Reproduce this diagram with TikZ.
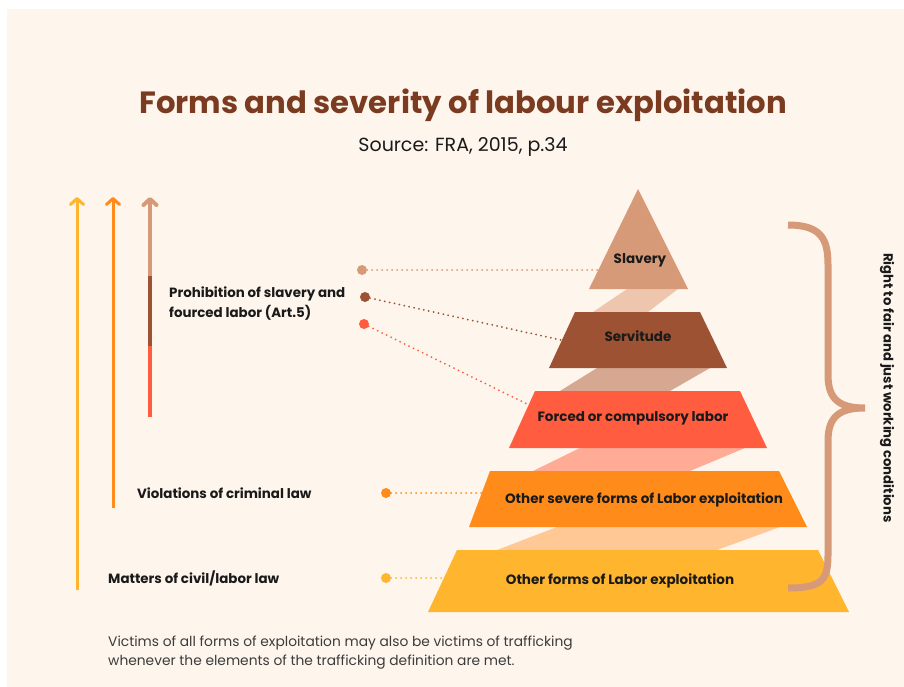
\documentclass[tikz,border=0pt]{standalone}
\usepackage{fontspec}
\setmainfont{Poppins}
\usetikzlibrary{arrows.meta}
\definecolor{paper}{HTML}{FEF5EC}
\definecolor{ink}{HTML}{1A1A1A}
\definecolor{headbrown}{HTML}{7A3B20}
\definecolor{tan}{HTML}{D69A78}
\definecolor{rust}{HTML}{9C5233}
\definecolor{coral}{HTML}{FF5C40}
\definecolor{amber}{HTML}{FF8C1A}
\definecolor{gold}{HTML}{FFB62E}
\definecolor{bandtan}{HTML}{EEC6AE}
\definecolor{bandrust}{HTML}{D6A892}
\definecolor{bandcoral}{HTML}{FFAB96}
\definecolor{bandamber}{HTML}{FFC894}

\begin{document}
\begin{tikzpicture}[x=1pt, y=-1pt,
  tier/.style={font=\fontsize{13.5}{16}\selectfont\bfseries, text=ink},
  lawlabel/.style={anchor=west, inner sep=0pt, font=\fontsize{13.4}{20}\selectfont\bfseries, text=ink, align=left},
  bullet/.style={circle, inner sep=0pt, minimum size=10pt, fill=#1},
  leader/.style={draw=#1, line width=2pt, line cap=round, dash pattern=on 0pt off 5pt},
  scalearrow/.style={draw=#1, line width=3pt, -{Straight Barb[length=6pt, width=13pt, round]}}
]
  \fill[white] (0,0) rectangle (904,687);
  \fill[paper] (7,9) rectangle (904,687);

  \node[font=\fontsize{30.7}{36}\selectfont\bfseries, text=headbrown] (title) at (463,105) {Forms and severity of labour exploitation};
  \node[font=\fontsize{19}{22}\selectfont, text=ink] (source) at (463,147) {Source: FRA, 2015, p.34};

  % bands joining the tiers
  \fill[bandtan] (627,289) -- (678,289) -- (648,312) -- (593,312) -- cycle;
  \fill[bandrust] (597,368) -- (710,368) -- (670,391) -- (560,391) -- cycle;
  \fill[bandcoral] (580,448) -- (745,448) -- (690,471) -- (533,471) -- cycle;
  \fill[bandamber] (557,527) -- (780,527) -- (717,550) -- (497,550) -- cycle;

  % tiers
  \fill[tan] (638,189) -- (688,289) -- (589,289) -- cycle;
  \fill[rust] (575,312) -- (700,312) -- (727,368) -- (549,368) -- cycle;
  \fill[coral] (535,391) -- (740,391) -- (767,448) -- (509,448) -- cycle;
  \fill[amber] (490,471) -- (779,471) -- (807,527) -- (469,527) -- cycle;
  \fill[gold] (457,550) -- (818,550) -- (849,612) -- (428,612) -- cycle;

  \node[tier] (slavery) at (640,260) {Slavery};
  \node[tier] (servitude) at (638,336) {Servitude};
  \node[tier] (forced) at (633,418) {Forced or compulsory labor};
  \node[tier] (severe) at (644,500) {Other severe forms of Labor exploitation};
  \node[tier] (other) at (620,581) {Other forms of Labor exploitation};

  % leaders from the law labels to the tiers
  \coordinate (slaveryedge) at (598,270);
  \coordinate (servitudeedge) at (561,340);
  \coordinate (forcededge) at (529,405);
  \coordinate (severeedge) at (483,493);
  \coordinate (otheredge) at (444,578);

  \node[bullet=tan] (dslavery) at (362,270) {};
  \node[bullet=rust] (dservitude) at (365,297) {};
  \node[bullet=coral] (dforced) at (364,324) {};
  \node[bullet=amber] (dsevere) at (386,493) {};
  \node[bullet=gold] (dother) at (386,578) {};

  \draw[leader=tan] (dslavery) -- (slaveryedge);
  \draw[leader=rust] (dservitude) -- (servitudeedge);
  \draw[leader=coral] (dforced) -- (forcededge);
  \draw[leader=amber] (dsevere) -- (severeedge);
  \draw[leader=gold] (dother) -- (otheredge);

  % severity arrows
  \coordinate (civilfoot) at (77,590);
  \coordinate (civiltop) at (77,197);
  \coordinate (crimfoot) at (113,508);
  \coordinate (crimtop) at (113,197);
  \coordinate (artfoot) at (150,417);
  \coordinate (artmid) at (150,346);
  \coordinate (artknee) at (150,276);
  \coordinate (arttop) at (150,197);

  \draw[scalearrow=gold] (civilfoot) -- (civiltop);
  \draw[scalearrow=amber] (crimfoot) -- (crimtop);
  \draw[coral, line width=4pt] (artfoot) -- (artmid);
  \draw[rust, line width=4pt] (artmid) -- (artknee);
  \draw[scalearrow=tan, line width=4pt] (artknee) -- (arttop);

  \node[lawlabel] (art5) at (169,304) {Prohibition of slavery and\\fourced labor (Art.5)};
  \node[lawlabel] (criminal) at (137,493) {Violations of criminal law};
  \node[lawlabel] (civil) at (108,578) {Matters of civil/labor law};

  % working conditions brace
  \draw[tan, line width=7pt]
    (788,225) .. controls (822,225) and (828,240) .. (828,265) -- (828,375)
    .. controls (828,400) and (840,408) .. (865,408)
    .. controls (840,408) and (828,416) .. (828,441) -- (828,555)
    .. controls (828,580) and (822,588) .. (788,588);
  \node[rotate=-90, font=\fontsize{13.2}{16}\selectfont\bfseries, text=ink] (rights) at (887,388) {Right to fair and just working conditions};

  \node[anchor=west, inner sep=0pt, font=\fontsize{13.8}{19}\selectfont, text=ink!85, align=left] (note) at (108,653)
    {Victims of all forms of exploitation may also be victims of trafficking\\whenever the elements of the trafficking definition are met.};
\end{tikzpicture}
\end{document}
